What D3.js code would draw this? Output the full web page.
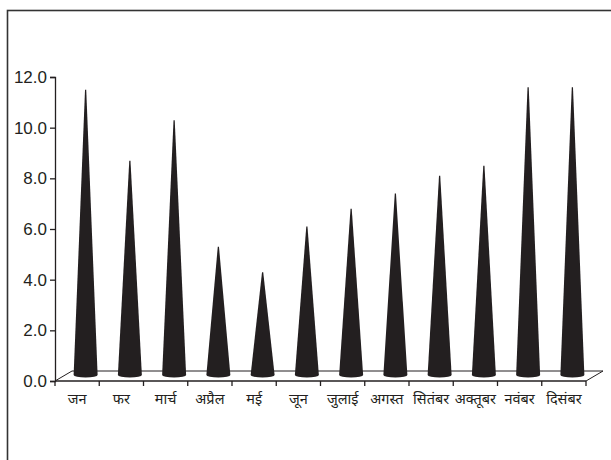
<!DOCTYPE html>
<html>
<head>
<meta charset="utf-8">
<script src="https://cdn.jsdelivr.net/npm/d3@7/dist/d3.min.js"></script>
<style>
  html, body { margin: 0; padding: 0; background: #fff; }
  svg { display: block; }
</style>
</head>
<body>
<svg id="chart" width="611" height="460"></svg>
<script>
const months = ["जन", "फर", "मार्च", "अप्रैल", "मई", "जून", "जुलाई", "अगस्त", "सितंबर", "अक्तूबर", "नवंबर", "दिसंबर"];
const values = [11.3, 8.5, 10.1, 5.1, 4.1, 5.9, 6.6, 7.2, 7.9, 8.3, 11.4, 11.4];
const yTicks = [0, 2, 4, 6, 8, 10, 12];

const ink = "#231f20";
const svg = d3.select("#chart");

// outer frame
svg.append("rect")
  .attr("x", 7.5).attr("y", 10.5)
  .attr("width", 610).attr("height", 470)
  .attr("fill", "none").attr("stroke", "#333").attr("stroke-width", 1.6);

const x = d3.scaleBand().domain(months).range([55, 586]).padding(0);
const y = d3.scaleLinear().domain([0, 12]).range([381, 77]);
const depthX = 17, depthY = -10;

// floor (3D base)
const x0 = x.range()[0], x1 = x.range()[1], y0 = y(0);
const floor = svg.append("g").attr("stroke", ink).attr("stroke-width", 1).attr("fill", "none");
floor.append("path").attr("d",
  `M${x0},${y0} L${x0 + depthX},${y0 + depthY} L${x1 + depthX},${y0 + depthY} L${x1},${y0}`);

// cones
const half = 12;
const cones = svg.append("g");
months.forEach((m, i) => {
  const cx = x(m) + x.bandwidth() / 2 + depthX / 2;
  const by = y(0) + depthY / 2 - 1;
  const ty = y(values[i]) + depthY / 2;
  cones.append("path")
    .attr("d", `M${cx - half},${by} L${cx - 0.6},${ty} L${cx + 0.6},${ty} L${cx + half},${by} A${half},2.5 0 0 1 ${cx - half},${by} Z`)
    .attr("fill", ink);
});

// x axis line & boundary ticks
const xa = svg.append("g").attr("stroke", ink).attr("stroke-width", 1.3);
xa.append("line").attr("x1", x0).attr("x2", x1).attr("y1", y0).attr("y2", y0);
const bounds = months.map(m => x(m)).concat([x1]);
bounds.forEach(b => {
  xa.append("line").attr("x1", b).attr("x2", b).attr("y1", y0).attr("y2", y0 + 5);
});

// x labels
const xAxis = svg.append("g")
  .attr("transform", `translate(0,${y0})`)
  .call(d3.axisBottom(x).tickSize(0).tickPadding(13));
xAxis.select(".domain").remove();
xAxis.selectAll("text")
  .attr("fill", ink)
  .style("font-family", "'Noto Sans Devanagari', 'Noto Sans', sans-serif")
  .style("font-size", "14.5px");

// y axis
const yAxis = svg.append("g")
  .attr("transform", `translate(${x0},0)`)
  .call(d3.axisLeft(y).tickValues(yTicks).tickSize(5).tickPadding(3).tickFormat(d3.format(".1f")));
yAxis.select(".domain").attr("stroke", ink).attr("stroke-width", 1.3);
yAxis.selectAll(".tick line").attr("stroke", ink).attr("stroke-width", 1.3);
yAxis.selectAll("text")
  .attr("fill", ink)
  .style("font-family", "'Liberation Sans', Arial, sans-serif")
  .style("font-size", "17px");
</script>
</body>
</html>
